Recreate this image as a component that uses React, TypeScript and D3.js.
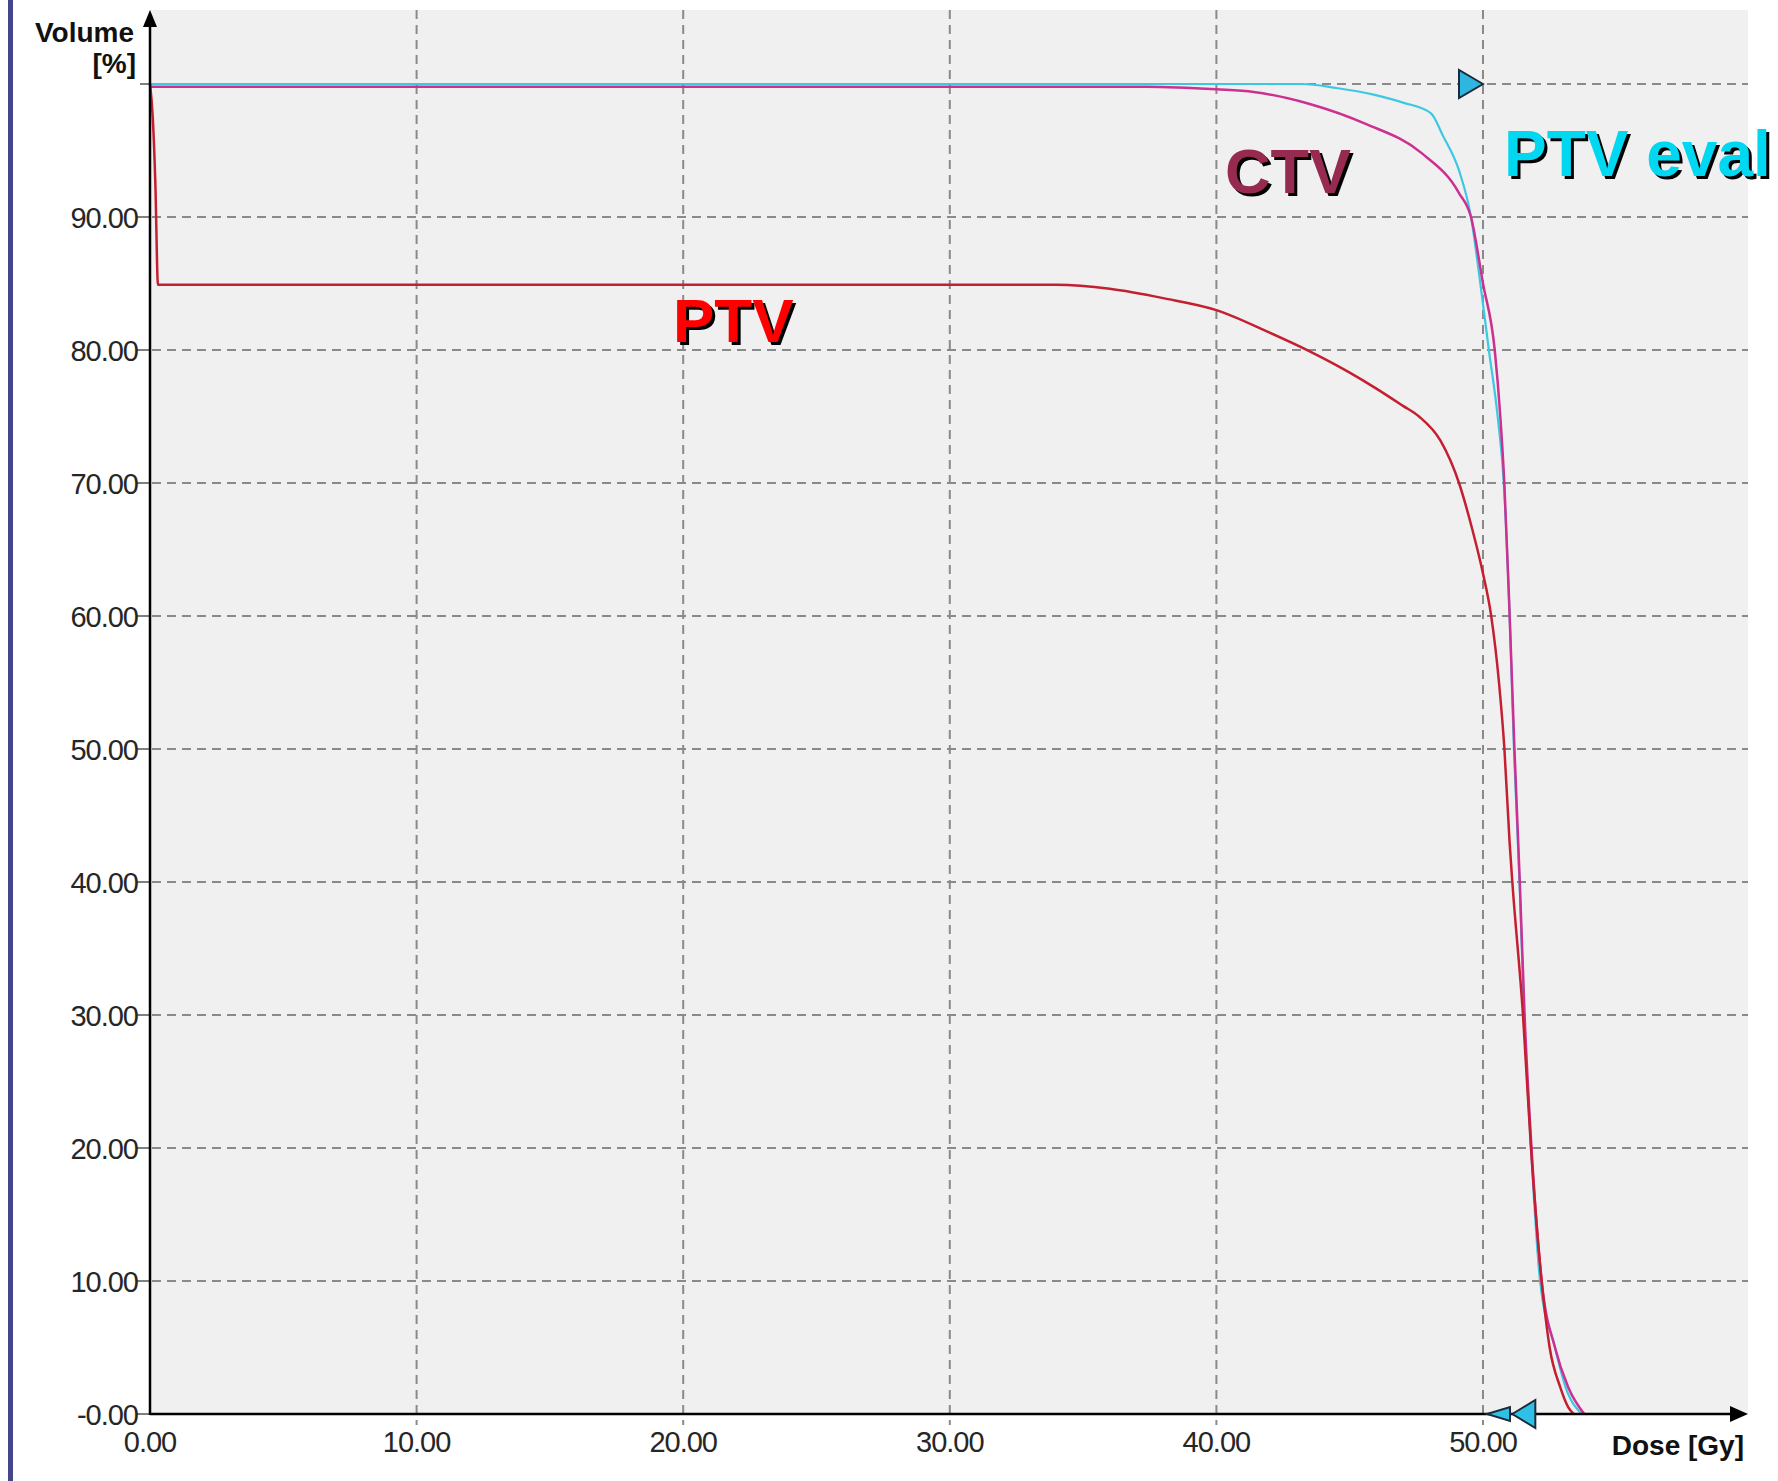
import React from "react";
import * as d3 from "d3";

// ---- data (dose in Gy, volume in %) ----
const ptvDose = [0, 0.1, 0.2, 0.3, 10, 20, 30, 34, 36, 38, 40, 42, 43.5, 45, 46, 47, 47.6, 48.4, 49.1, 49.6, 50.0, 50.3, 50.6, 50.8, 51.0, 51.1, 51.5, 51.8, 52.2, 52.5, 52.9, 53.2, 53.4];
const ptvVol = [100, 97.6, 92.6, 84.9, 84.9, 84.9, 84.9, 84.9, 84.6, 83.9, 83.0, 81.3, 79.9, 78.3, 77.1, 75.8, 75.0, 73.2, 70.0, 66.5, 63.2, 60.1, 55.0, 50.1, 42.9, 40.0, 30.0, 20.0, 10.0, 5.0, 2.0, 0.5, 0];

const ctvDose = [0, 10, 20, 30, 37.4, 40, 41.4, 43.5, 45.6, 47.7, 49.1, 49.55, 50.0, 50.44, 50.65, 50.8, 51.0, 51.18, 51.38, 51.56, 51.82, 52.2, 52.7, 53.2, 53.8];
const ctvVol = [99.8, 99.8, 99.8, 99.8, 99.8, 99.6, 99.4, 98.5, 97.0, 94.8, 91.8, 90.0, 85.0, 80.0, 75.0, 70.0, 60.0, 50.0, 40.0, 30.0, 20.0, 10.0, 5.0, 2.0, 0];

const evalDose = [0, 10, 20, 30, 40, 43.2, 44.5, 45.9, 47.0, 48.05, 48.5, 49.1, 49.55, 49.9, 50.22, 50.55, 50.78, 51.0, 51.16, 51.37, 51.54, 51.8, 52.14, 52.7, 53.1, 53.7];
const evalVol = [100, 100, 100, 100, 100, 100, 99.7, 99.2, 98.6, 97.8, 96.1, 93.5, 90.0, 85.0, 80.0, 75.0, 70.0, 60.0, 50.0, 40.0, 30.0, 20.0, 10.0, 5.0, 2.0, 0];

const xTicks = [0, 10, 20, 30, 40, 50];
const yTicks = [0, 10, 20, 30, 40, 50, 60, 70, 80, 90];
const xTickLabels = ["0.00", "10.00", "20.00", "30.00", "40.00", "50.00"];
const yTickLabels = ["-0.00", "10.00", "20.00", "30.00", "40.00", "50.00", "60.00", "70.00", "80.00", "90.00"];

const topMarkerDose = 50;
const topMarkerVol = 100;
const bottomMarkerDoses = [50.15, 51.1];

const seriesNames = ["PTV eval", "CTV", "PTV"];

const W = 1778;
const H = 1481;
const X0 = 150;
const Y0 = 1414;

export default function App() {
  const x = d3.scaleLinear().domain([0, 50]).range([X0, 1483]);
  const y = d3.scaleLinear().domain([0, 100]).range([Y0, 84]);
  const line = d3
    .line<[number, number]>()
    .x((d) => x(d[0]))
    .y((d) => y(d[1]))
    .curve(d3.curveMonotoneX);

  const mk = (ds: number[], vs: number[]) => ds.map((d, i) => [d, vs[i]] as [number, number]);

  const right = 1748;
  const top = 10;
  const tickFont = "'Liberation Sans', Arial, sans-serif";

  const tx = x(topMarkerDose);
  const ty = y(topMarkerVol);

  const shadowText = (label: string, px: number, py: number, color: string, size: number) => (
    <g fontFamily={tickFont} fontWeight="bold" fontSize={size}>
      <text x={px + 3} y={py + 3} fill="#000">{label}</text>
      <text x={px} y={py} fill={color}>{label}</text>
    </g>
  );

  return (
    <svg
      width={W}
      height={H}
      style={{ position: "absolute", left: 0, top: 0, background: "#fff" }}
    >
      <rect x={0} y={0} width={W} height={H} fill="#ffffff" />
      <rect x={8} y={0} width={5} height={H} fill="#45458c" />
      <rect x={X0} y={top} width={right - X0} height={Y0 - top} fill="#f0f0f0" />

      {/* grid */}
      <g stroke="#8a8a8a" strokeWidth={2} strokeDasharray="9,6">
        {xTicks.slice(1).map((t) => (
          <line key={"gx" + t} x1={x(t)} x2={x(t)} y1={top} y2={Y0 + 11} />
        ))}
        {[...yTicks.slice(1), 100].map((t) => (
          <line key={"gy" + t} x1={X0 + 2} x2={right} y1={y(t)} y2={y(t)} />
        ))}
      </g>

      {/* y tick marks */}
      <g stroke="#555" strokeWidth={1.5}>
        {[...yTicks, 100].map((t) => (
          <line key={"yt" + t} x1={t === 100 ? 140 : 137} x2={X0} y1={y(t)} y2={y(t)} />
        ))}
      </g>

      {/* y tick labels */}
      <g fontFamily={tickFont} fontSize={29} letterSpacing={-1} fill="#262626" textAnchor="end">
        {yTicks.map((t, i) => (
          <text key={"yl" + t} x={138} y={y(t) + 11}>
            {yTickLabels[i]}
          </text>
        ))}
      </g>

      {/* x tick labels */}
      <g fontFamily={tickFont} fontSize={29} letterSpacing={-1} fill="#262626" textAnchor="middle">
        {xTicks.map((t, i) => (
          <text key={"xl" + t} x={x(t)} y={1452}>
            {xTickLabels[i]}
          </text>
        ))}
      </g>

      {/* axis titles */}
      <g fontFamily={tickFont} fontWeight="bold" fontSize={28} fill="#111">
        <text x={134} y={42} textAnchor="end">Volume</text>
        <text x={136} y={73} textAnchor="end">[%]</text>
        <text x={1744} y={1455} textAnchor="end">Dose [Gy]</text>
      </g>

      {/* curves */}
      <g fill="none" strokeLinejoin="round">
        <path d={line(mk(evalDose, evalVol)) || ""} stroke="#3cc8e2" strokeWidth={2.2} />
        <path d={line(mk(ctvDose, ctvVol)) || ""} stroke="#cc3090" strokeWidth={2.5} />
        <path d={line(mk(ptvDose, ptvVol)) || ""} stroke="#c41f30" strokeWidth={2.5} />
      </g>

      {/* axes */}
      <line x1={X0} x2={X0} y1={top + 6} y2={Y0 + 1} stroke="#000" strokeWidth={2.5} />
      <polygon points={`${X0},${top} ${X0 - 7},${top + 17} ${X0 + 7},${top + 17}`} fill="#000" />
      <line x1={X0} x2={right - 10} y1={Y0} y2={Y0} stroke="#000" strokeWidth={2.5} />
      <polygon points={`${right},${Y0} ${right - 18},${Y0 - 8} ${right - 18},${Y0 + 8}`} fill="#000" />

      {/* markers */}
      <polygon
        points={`${tx},${ty} ${tx - 24},${ty - 14} ${tx - 24},${ty + 14}`}
        fill="#2fb6e0"
        stroke="#1c2a3a"
        strokeWidth={2}
      />
      {bottomMarkerDoses.map((d, i) => {
        const mx = x(d);
        const hw = i === 0 ? 7 : 14;
        return (
          <polygon
            key={"bm" + i}
            points={`${mx},${Y0} ${mx + 23},${Y0 - hw} ${mx + 23},${Y0 + hw}`}
            fill="#2fc0e8"
            stroke="#1c2a3a"
            strokeWidth={2}
          />
        );
      })}

      {/* series labels */}
      {shadowText(seriesNames[2], 673, 342, "#ff0000", 62)}
      {shadowText(seriesNames[1], 1225, 193, "#962a50", 63)}
      {shadowText(seriesNames[0], 1504, 176, "#00d8f2", 64)}
    </svg>
  );
}
